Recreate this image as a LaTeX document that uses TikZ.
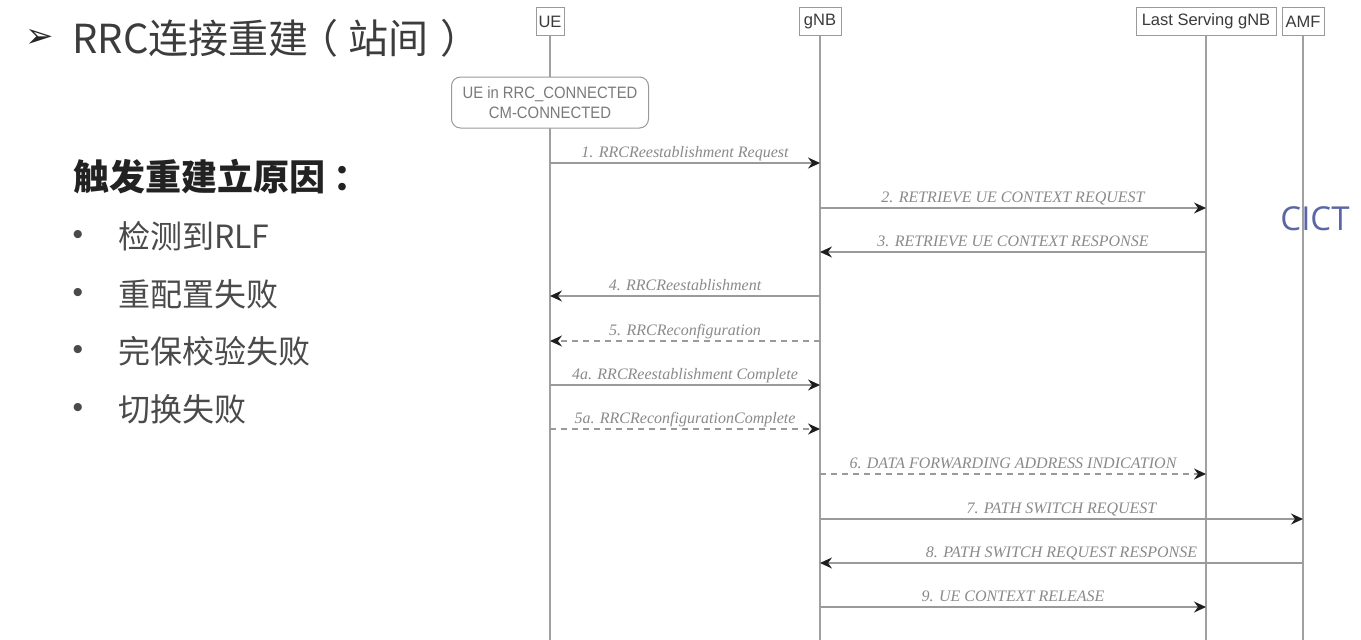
\documentclass[tikz,border=0pt]{standalone}
\usepackage{fontspec}
\setmainfont{Liberation Serif}
\newfontfamily\cjk{Noto Sans CJK SC}
\newfontfamily\hdr{Liberation Sans}
\newfontfamily\cond[FakeStretch=0.9]{Liberation Sans}
\newfontfamily\dingf{DejaVu Sans}
\newfontfamily\cictf{Open Sans}
\usetikzlibrary{arrows.meta,calc}
\definecolor{titlec}{HTML}{3C3C3C}
\definecolor{headc}{HTML}{222222}
\definecolor{itemc}{HTML}{4A4A4A}
\definecolor{lblc}{HTML}{8A8A8A}
\definecolor{linec}{HTML}{9A9A9A}
\definecolor{lifec}{HTML}{A0A0A0}
\definecolor{tipc}{HTML}{1E1E1E}
\definecolor{hdrtext}{HTML}{3A3A3A}
\definecolor{statetext}{HTML}{7A7A7A}
\definecolor{cictc}{HTML}{5A66A6}
\tikzset{
  hbox/.style={draw=linec, line width=1pt, minimum height=28pt, inner sep=0pt,
    font=\hdr\fontsize{16.5}{18}\selectfont, text=hdrtext},
  life/.style={draw=lifec, line width=1.2pt},
  msg/.style={draw=linec, line width=1.2pt,
    -{Stealth[length=12pt,width=11pt,inset=4pt,color=tipc]}},
  dmsg/.style={msg, dash pattern=on 6pt off 5pt},
  lbl/.style={midway, anchor=base, yshift=6pt, inner sep=0pt,
    font=\itshape\fontsize{16}{18}\selectfont, text=lblc},
  statebox/.style={draw=linec, line width=1pt, fill=white, rounded corners=9pt,
    minimum width=197pt, minimum height=51pt, inner sep=0pt, align=center,
    font=\cond\fontsize{16.5}{20}\selectfont, text=statetext},
  bul/.style={anchor=center, inner sep=0pt, font=\hdr\fontsize{30}{32}\selectfont, text=itemc},
  item/.style={anchor=base west, inner sep=0pt, font=\cjk\fontsize{32}{36}\selectfont, text=itemc}
}
\begin{document}
\begin{tikzpicture}[x=1pt,y=-1pt]
\useasboundingbox[fill=white] (0,0) rectangle (1361,640);

% left text
\node[anchor=center, inner sep=0pt, font=\dingf\fontsize{34}{36}\selectfont, text=black!85] (arr) at (40,38) {➢};
\node[anchor=base west, inner sep=0pt, font=\cjk\fontsize{40}{44}\selectfont, text=titlec] (title) at (72,53) {RRC连接重建\hspace{-10pt}（\hspace{10pt}站间\hspace{12pt}）};
\node[anchor=base west, inner sep=0pt, font=\cjk\bfseries\fontsize{36}{40}\selectfont, text=headc] (head) at (73,190) {触发重建立原因\hspace{8pt}：};
\node[bul] (b1) at (78,237) {•};
\node[item] (i1) at (118,248) {检测到RLF};
\node[bul] (b2) at (78,295) {•};
\node[item] (i2) at (118,306) {重配置失败};
\node[bul] (b3) at (78,352) {•};
\node[item] (i3) at (118,363) {完保校验失败};
\node[bul] (b4) at (78,410) {•};
\node[item] (i4) at (118,421) {切换失败};

% watermark
\node[inner sep=0pt, font=\cictf\fontsize{33}{36}\selectfont, text=cictc] (cict) at (1315,219) {CICT};

% headers
\node[hbox, minimum width=28pt] (ue) at (550,21.5) {UE};
\node[hbox, minimum width=42pt] (gnb) at (820,21.5) {gNB};
\node[hbox, minimum width=140pt] (ls) at (1206,21.5) {Last Serving gNB};
\node[hbox, minimum width=42pt] (amf) at (1303,21.5) {AMF};

% lifelines
\coordinate (ueE) at (ue.south |- 0,640);
\coordinate (gnbE) at (gnb.south |- 0,640);
\coordinate (lsE) at (ls.south |- 0,640);
\coordinate (amfE) at (amf.south |- 0,640);
\draw[life] (ue.south) -- (ueE);
\draw[life] (gnb.south) -- (gnbE);
\draw[life] (ls.south) -- (lsE);
\draw[life] (amf.south) -- (amfE);

% state
\node[statebox] (st) at (550,102.5) {UE in RRC\_CONNECTED\\CM-CONNECTED};

% messages
\draw[msg] (ue |- 0,163) -- (gnb |- 0,163) node[lbl] {1. RRCReestablishment Request};
\draw[msg] (gnb |- 0,208) -- (ls |- 0,208) node[lbl] {2. RETRIEVE UE CONTEXT REQUEST};
\draw[msg] (ls |- 0,252) -- (gnb |- 0,252) node[lbl] {3. RETRIEVE UE CONTEXT RESPONSE};
\draw[msg] (gnb |- 0,296) -- (ue |- 0,296) node[lbl] {4. RRCReestablishment};
\draw[dmsg] (gnb |- 0,341) -- (ue |- 0,341) node[lbl] {5. RRCReconfiguration};
\draw[msg] (ue |- 0,385) -- (gnb |- 0,385) node[lbl] {4a. RRCReestablishment Complete};
\draw[dmsg] (ue |- 0,429) -- (gnb |- 0,429) node[lbl] {5a. RRCReconfigurationComplete};
\draw[dmsg] (gnb |- 0,474) -- (ls |- 0,474) node[lbl] {6. DATA FORWARDING ADDRESS INDICATION};
\draw[msg] (gnb |- 0,519) -- (amf |- 0,519) node[lbl] {7. PATH SWITCH REQUEST};
\draw[msg] (amf |- 0,563) -- (gnb |- 0,563) node[lbl] {8. PATH SWITCH REQUEST RESPONSE};
\draw[msg] (gnb |- 0,607) -- (ls |- 0,607) node[lbl] {9. UE CONTEXT RELEASE};
\end{tikzpicture}
\end{document}
